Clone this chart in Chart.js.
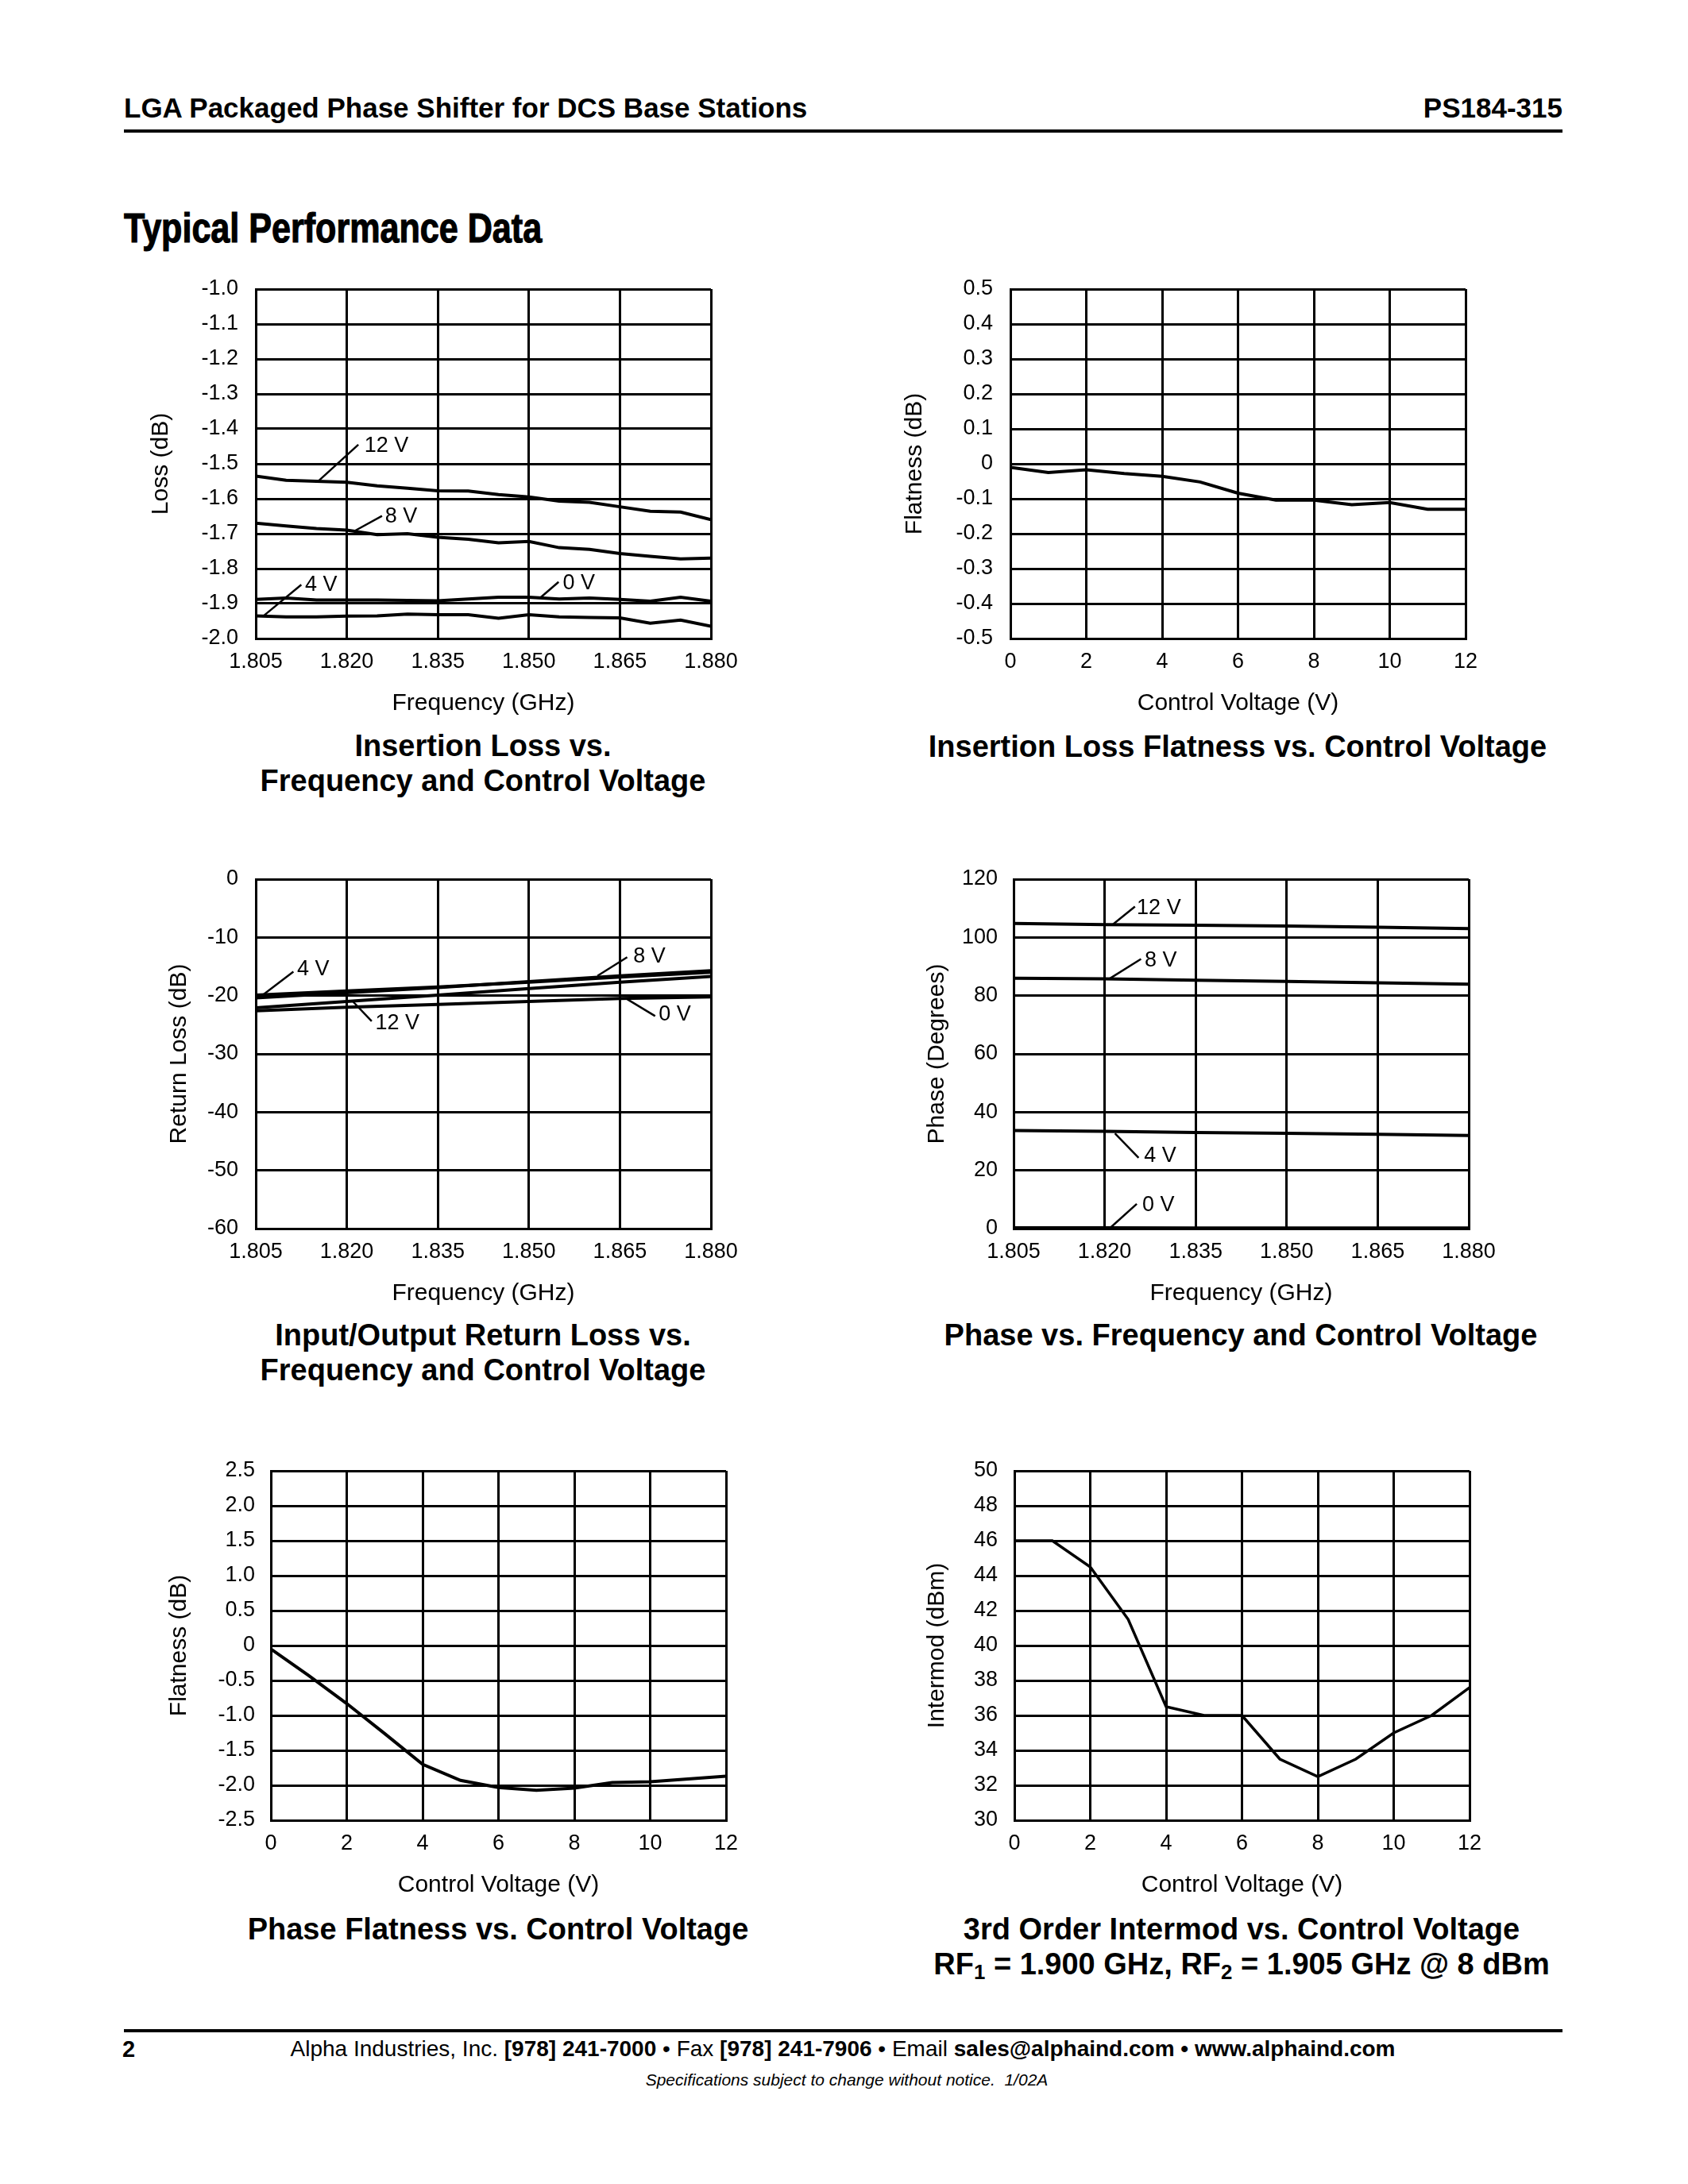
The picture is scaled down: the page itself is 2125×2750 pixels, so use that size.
<!DOCTYPE html>
<html>
<head>
<meta charset="utf-8">
<script src="https://cdn.jsdelivr.net/npm/chart.js@4.4.1/dist/chart.umd.min.js"></script>
<style>
  body { margin: 0; background: #fff; width: 2125px; height: 2750px; position: relative;
         font-family: "Liberation Sans", Arial, Helvetica, sans-serif; color: #000; overflow: hidden; }
  .abs { position: absolute; white-space: nowrap; }
  canvas { position: absolute; }
  .rule { position: absolute; background: #000; left: 156px; width: 1811px; height: 4px; }
  .ctitle { position: absolute; width: 900px; text-align: center; font-weight: bold;
            font-size: 38px; line-height: 44px; }
  sub { font-size: 0.68em; vertical-align: -0.25em; line-height: 0; }
</style>
</head>
<body>

<div class="abs" style="left:156px; top:116px; font-size:35px; line-height:40px; font-weight:bold;">LGA Packaged Phase Shifter for DCS Base Stations</div>
<div class="abs" style="right:158px; top:116px; font-size:35px; line-height:40px; font-weight:bold;">PS184-315</div>
<div class="rule" style="top:163px;"></div>
<div class="abs" style="left:156px; top:258px; font-size:51px; line-height:60px; font-weight:bold; -webkit-text-stroke:1.2px #000; transform:scaleX(0.845); transform-origin:left center;">Typical Performance Data</div>

<canvas id="c1"></canvas>
<canvas id="c2"></canvas>
<canvas id="c3"></canvas>
<canvas id="c4"></canvas>
<canvas id="c5"></canvas>
<canvas id="c6"></canvas>

<div class="ctitle" style="left:158px; top:917px;">Insertion Loss vs.<br>Frequency and Control Voltage</div>
<div class="ctitle" style="left:1108px; top:918px;">Insertion Loss Flatness vs. Control Voltage</div>
<div class="ctitle" style="left:158px; top:1659px;">Input/Output Return Loss vs.<br>Frequency and Control Voltage</div>
<div class="ctitle" style="left:1112px; top:1659px;">Phase vs. Frequency and Control Voltage</div>
<div class="ctitle" style="left:177px; top:2407px;">Phase Flatness vs. Control Voltage</div>
<div class="ctitle" style="left:1113px; top:2407px;">3rd Order Intermod vs. Control Voltage<br>RF<sub>1</sub> = 1.900 GHz, RF<sub>2</sub> = 1.905 GHz @ 8 dBm</div>

<div class="rule" style="top:2555px;"></div>
<div class="abs" style="left:154px; top:2563px; font-size:29px; line-height:34px; font-weight:bold;">2</div>
<div class="abs" style="left:1061px; top:2563px; transform:translateX(-50%); font-size:28px; line-height:34px;">Alpha Industries, Inc. <b>[978] 241-7000</b> &bull; Fax <b>[978] 241-7906</b> &bull; Email <b>sales@alphaind.com &bull; www.alphaind.com</b></div>
<div class="abs" style="left:1066px; top:2607px; transform:translateX(-50%); font-size:21px; line-height:24px; font-style:italic;">Specifications subject to change without notice.&nbsp; 1/02A</div>

<script>
// ---- axis ticks ----
const freqTicks = [1.805, 1.820, 1.835, 1.850, 1.865, 1.880];
const freqTickLabels = ['1.805', '1.820', '1.835', '1.850', '1.865', '1.880'];
const voltTicks = [0, 2, 4, 6, 8, 10, 12];
const voltTickLabels = ['0', '2', '4', '6', '8', '10', '12'];
const lossTicks = [-1.0, -1.1, -1.2, -1.3, -1.4, -1.5, -1.6, -1.7, -1.8, -1.9, -2.0];
const lossTickLabels = ['-1.0', '-1.1', '-1.2', '-1.3', '-1.4', '-1.5', '-1.6', '-1.7', '-1.8', '-1.9', '-2.0'];
const ilFlatTicks = [0.5, 0.4, 0.3, 0.2, 0.1, 0, -0.1, -0.2, -0.3, -0.4, -0.5];
const ilFlatTickLabels = ['0.5', '0.4', '0.3', '0.2', '0.1', '0', '-0.1', '-0.2', '-0.3', '-0.4', '-0.5'];
const rlTicks = [0, -10, -20, -30, -40, -50, -60];
const rlTickLabels = ['0', '-10', '-20', '-30', '-40', '-50', '-60'];
const phaseTicks = [120, 100, 80, 60, 40, 20, 0];
const phaseTickLabels = ['120', '100', '80', '60', '40', '20', '0'];
const phFlatTicks = [2.5, 2.0, 1.5, 1.0, 0.5, 0, -0.5, -1.0, -1.5, -2.0, -2.5];
const phFlatTickLabels = ['2.5', '2.0', '1.5', '1.0', '0.5', '0', '-0.5', '-1.0', '-1.5', '-2.0', '-2.5'];
const imdTicks = [50, 48, 46, 44, 42, 40, 38, 36, 34, 32, 30];
const imdTickLabels = ['50', '48', '46', '44', '42', '40', '38', '36', '34', '32', '30'];

// ---- insertion loss vs frequency (dB) ----
const ilFreq = [1.805, 1.810, 1.815, 1.820, 1.825, 1.830, 1.835, 1.840, 1.845, 1.850, 1.855, 1.860, 1.865, 1.870, 1.875, 1.880];
const il12V = [-1.535, -1.547, -1.55, -1.553, -1.563, -1.57, -1.577, -1.578, -1.588, -1.595, -1.607, -1.61, -1.623, -1.636, -1.638, -1.66];
const il8V  = [-1.67, -1.678, -1.685, -1.69, -1.703, -1.7, -1.71, -1.716, -1.726, -1.722, -1.74, -1.745, -1.757, -1.765, -1.772, -1.77];
const il4V  = [-1.935, -1.938, -1.938, -1.936, -1.935, -1.93, -1.932, -1.932, -1.942, -1.932, -1.938, -1.94, -1.941, -1.956, -1.947, -1.965];
const il0V  = [-1.888, -1.884, -1.89, -1.89, -1.89, -1.891, -1.892, -1.887, -1.882, -1.882, -1.887, -1.884, -1.888, -1.893, -1.882, -1.893];

// ---- insertion loss flatness vs control voltage ----
const ctrlVolt = [0, 1, 2, 3, 4, 5, 6, 7, 8, 9, 10, 11, 12];
const ilFlatness = [-0.01, -0.025, -0.017, -0.028, -0.036, -0.052, -0.084, -0.104, -0.104, -0.117, -0.111, -0.13, -0.13];

// ---- return loss vs frequency (dB) ----
const rlFreq = [1.805, 1.820, 1.835, 1.850, 1.865, 1.880];
const rl4V  = [-19.9, -19.2, -18.5, -17.7, -16.8, -16.0];
const rl8V  = [-20.4, -19.5, -18.6, -17.6, -16.6, -15.7];
const rl12V = [-22.1, -21.0, -19.9, -18.8, -17.7, -16.7];
const rl0V  = [-22.6, -22.0, -21.5, -21.0, -20.5, -20.2];

// ---- phase vs frequency (degrees) ----
const phFreq = [1.805, 1.820, 1.835, 1.850, 1.865, 1.880];
const ph12V = [104.8, 104.4, 104.2, 103.9, 103.5, 103.0];
const ph8V  = [86.0, 85.8, 85.3, 84.9, 84.4, 83.9];
const ph4V  = [33.7, 33.4, 33.0, 32.7, 32.4, 32.0];
const ph0V  = [0.3, 0.3, 0.2, 0.2, 0.2, 0.2];

// ---- phase flatness and intermod vs control voltage ----
const phFlatness = [-0.05, -0.43, -0.83, -1.26, -1.7, -1.93, -2.03, -2.07, -2.04, -1.96, -1.95, -1.91, -1.87];
const intermod = [46, 46, 44.5, 41.5, 36.5, 36, 36, 33.5, 32.5, 33.5, 35, 36, 37.6];

// curve labels: leader line from -> to, text at (data units)
const ilNotes = [
  { text: '12 V', from: [1.8154, -1.548], to: [1.8219, -1.445], at: [1.8229, -1.449] },
  { text: '8 V',  from: [1.8213, -1.692], to: [1.8258, -1.649], at: [1.8263, -1.652] },
  { text: '4 V',  from: [1.8063, -1.935], to: [1.8125, -1.846], at: [1.8131, -1.846] },
  { text: '0 V',  from: [1.8519, -1.883], to: [1.8549, -1.838], at: [1.8556, -1.842] }
];
const rlNotes = [
  { text: '4 V',  from: [1.806, -20.0],  to: [1.8112, -15.9], at: [1.8118, -15.5] },
  { text: '12 V', from: [1.821, -21.0],  to: [1.8241, -24.4], at: [1.8247, -24.7] },
  { text: '8 V',  from: [1.8613, -16.6], to: [1.8662, -13.4], at: [1.8672, -13.3] },
  { text: '0 V',  from: [1.8662, -20.6], to: [1.8708, -23.5], at: [1.8714, -23.3] }
];
const phNotes = [
  { text: '12 V', from: [1.8214, 104.5], to: [1.825, 110.6],  at: [1.8253, 110.0] },
  { text: '8 V',  from: [1.8208, 85.8],  to: [1.826, 92.6],   at: [1.8266, 91.9] },
  { text: '4 V',  from: [1.8217, 32.7],  to: [1.8256, 24.3],  at: [1.8265, 25.0] },
  { text: '0 V',  from: [1.821, 0.4],    to: [1.8253, 8.5],   at: [1.8262, 8.0] }
];

const FONT = '"Liberation Sans", Arial, Helvetica, sans-serif';
// top padding must exceed half a tick label plus the y tick padding
const PAD_TOP = 48, PAD_RIGHT = 50, X_AXIS_H = 100, PLOT_W = 573, PLOT_H = 440;
Chart.defaults.color = '#000';
Chart.defaults.font.family = FONT;

function notePlugin(notes) {
  return {
    id: 'curveNotes',
    afterDatasetsDraw(chart) {
      const { ctx, scales: { x, y } } = chart;
      ctx.save();
      ctx.strokeStyle = '#000';
      ctx.fillStyle = '#000';
      ctx.lineWidth = 2.5;
      ctx.font = '27px ' + FONT;
      ctx.textAlign = 'left';
      ctx.textBaseline = 'middle';
      notes.forEach(n => {
        ctx.beginPath();
        ctx.moveTo(x.getPixelForValue(n.from[0]), y.getPixelForValue(n.from[1]));
        ctx.lineTo(x.getPixelForValue(n.to[0]), y.getPixelForValue(n.to[1]));
        ctx.stroke();
        ctx.fillText(n.text, x.getPixelForValue(n.at[0]), y.getPixelForValue(n.at[1]));
      });
      ctx.restore();
    }
  };
}

// g: plot box position on the page, yTitleX: centre of rotated y title, gap: tick label gap
function makeChart(id, g, series, xAxis, yAxis, notes) {
  const canvasLeft = Math.round(g.yTitleX - 18);
  const yW = g.left - canvasLeft;
  const el = document.getElementById(id);
  el.width = yW + PLOT_W + PAD_RIGHT;
  el.height = PAD_TOP + PLOT_H + X_AXIS_H;
  el.style.left = canvasLeft + 'px';
  el.style.top = (g.top - PAD_TOP) + 'px';

  const axis = (a, isX) => ({
    type: 'linear',
    position: isX ? 'bottom' : 'left',
    min: a.min,
    max: a.max,
    afterBuildTicks: sc => { sc.ticks = a.ticks.map(v => ({ value: v })); },
    afterFit: sc => { if (isX) sc.height = X_AXIS_H; else sc.width = yW; },
    ticks: {
      color: '#000',
      font: { family: FONT, size: 27 },
      padding: isX ? 13 : g.gap,
      autoSkip: false,
      maxRotation: 0,
      callback: (v, i) => a.labels[i]
    },
    grid: { color: '#000', lineWidth: 3, drawTicks: false },
    border: { display: true, color: '#000', width: 3 },
    title: { display: true, text: a.title, color: '#000', font: { family: FONT, size: 30 }, padding: 0 }
  });

  new Chart(el, {
    type: 'line',
    data: {
      datasets: series.map(s => ({
        data: s.x.map((xv, i) => ({ x: xv, y: s.y[i] })),
        borderColor: '#000',
        borderWidth: s.w || 4,
        pointRadius: 0,
        tension: 0,
        fill: false
      }))
    },
    options: {
      responsive: false,
      animation: false,
      layout: { padding: { top: PAD_TOP, right: PAD_RIGHT, left: 0, bottom: 0 } },
      plugins: { legend: { display: false }, tooltip: { enabled: false } },
      scales: { x: axis(xAxis, true), y: axis(yAxis, false) }
    },
    plugins: [notePlugin(notes || [])]
  });
}

const freqAxis = { min: 1.805, max: 1.880, ticks: freqTicks, labels: freqTickLabels, title: 'Frequency (GHz)' };
const voltAxis = { min: 0, max: 12, ticks: voltTicks, labels: voltTickLabels, title: 'Control Voltage (V)' };

makeChart('c1', { left: 322, top: 364, yTitleX: 203, gap: 22 },
  [{ x: ilFreq, y: il12V }, { x: ilFreq, y: il8V }, { x: ilFreq, y: il4V }, { x: ilFreq, y: il0V }],
  freqAxis,
  { min: -2.0, max: -1.0, ticks: lossTicks, labels: lossTickLabels, title: 'Loss (dB)' },
  ilNotes);

makeChart('c2', { left: 1272, top: 364, yTitleX: 1152, gap: 22 },
  [{ x: ctrlVolt, y: ilFlatness }],
  voltAxis,
  { min: -0.5, max: 0.5, ticks: ilFlatTicks, labels: ilFlatTickLabels, title: 'Flatness (dB)' });

makeChart('c3', { left: 322, top: 1107, yTitleX: 226, gap: 22 },
  [{ x: rlFreq, y: rl4V }, { x: rlFreq, y: rl8V }, { x: rlFreq, y: rl12V }, { x: rlFreq, y: rl0V }],
  freqAxis,
  { min: -60, max: 0, ticks: rlTicks, labels: rlTickLabels, title: 'Return Loss (dB)' },
  rlNotes);

makeChart('c4', { left: 1276, top: 1107, yTitleX: 1180, gap: 20 },
  [{ x: phFreq, y: ph12V }, { x: phFreq, y: ph8V }, { x: phFreq, y: ph4V }, { x: phFreq, y: ph0V }],
  freqAxis,
  { min: 0, max: 120, ticks: phaseTicks, labels: phaseTickLabels, title: 'Phase (Degrees)' },
  phNotes);

makeChart('c5', { left: 341, top: 1852, yTitleX: 226, gap: 20 },
  [{ x: ctrlVolt, y: phFlatness }],
  voltAxis,
  { min: -2.5, max: 2.5, ticks: phFlatTicks, labels: phFlatTickLabels, title: 'Flatness (dB)' });

makeChart('c6', { left: 1277, top: 1852, yTitleX: 1180, gap: 21 },
  [{ x: ctrlVolt, y: intermod, w: 3.5 }],
  voltAxis,
  { min: 30, max: 50, ticks: imdTicks, labels: imdTickLabels, title: 'Intermod (dBm)' });
</script>
</body>
</html>
